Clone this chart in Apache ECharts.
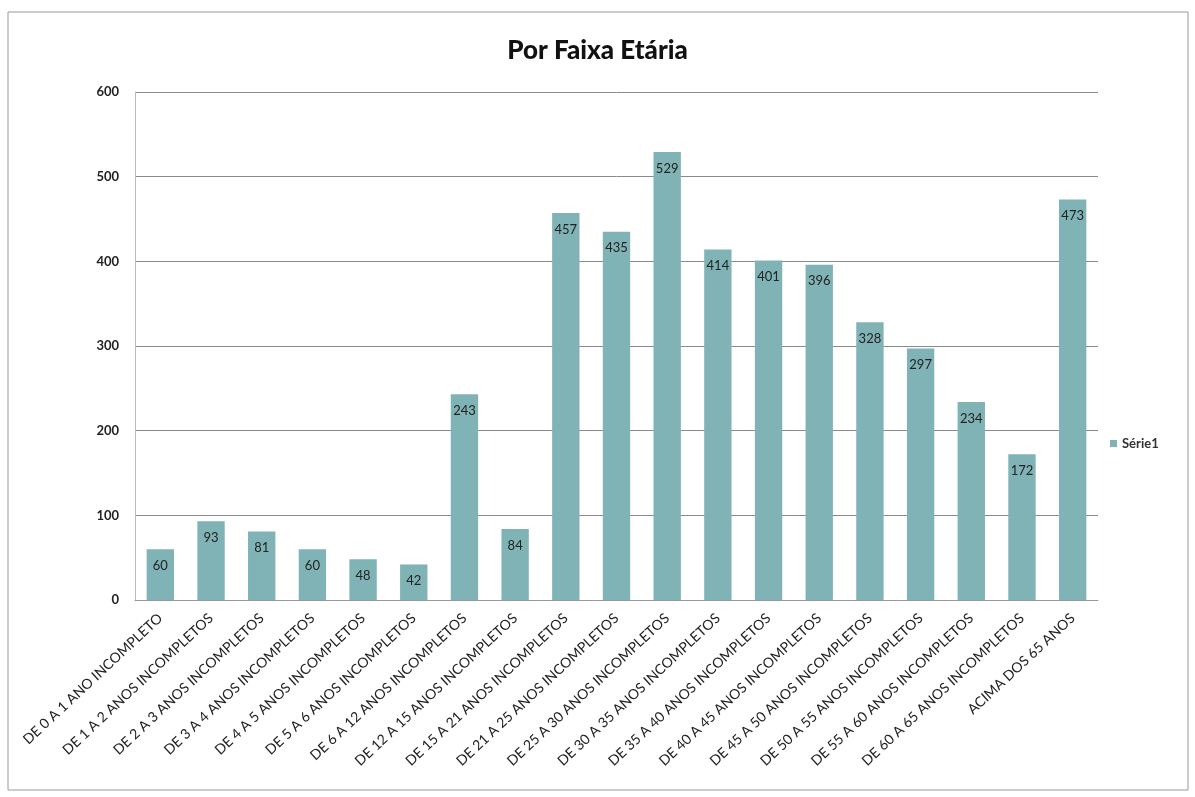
<!DOCTYPE html>
<html><head><meta charset="utf-8">
<script src="https://cdn.jsdelivr.net/npm/echarts@6/dist/echarts.min.js"></script>
<style>html,body{margin:0;padding:0;background:#fff}#c{width:1195px;height:797px}</style>
</head><body><div id="c"></div>
<script>
const categories = [
  "DE 0 A 1 ANO INCOMPLETO",
  "DE 1 A 2 ANOS INCOMPLETOS",
  "DE 2 A 3 ANOS INCOMPLETOS",
  "DE 3 A 4 ANOS INCOMPLETOS",
  "DE 4 A 5 ANOS INCOMPLETOS",
  "DE 5 A 6 ANOS INCOMPLETOS",
  "DE 6 A 12 ANOS INCOMPLETOS",
  "DE 12 A 15 ANOS INCOMPLETOS",
  "DE 15 A 21 ANOS INCOMPLETOS",
  "DE 21 A 25 ANOS INCOMPLETOS",
  "DE 25 A 30 ANOS INCOMPLETOS",
  "DE 30 A 35 ANOS INCOMPLETOS",
  "DE 35 A 40 ANOS INCOMPLETOS",
  "DE 40 A 45 ANOS INCOMPLETOS",
  "DE 45 A 50 ANOS INCOMPLETOS",
  "DE 50 A 55 ANOS INCOMPLETOS",
  "DE 55 A 60 ANOS INCOMPLETOS",
  "DE 60 A 65 ANOS INCOMPLETOS",
  "ACIMA DOS 65 ANOS"
];
const serie1 = [60, 93, 81, 60, 48, 42, 243, 84, 457, 435, 529, 414, 401, 396, 328, 297, 234, 172, 473];
const seriesName = "Série1";
const titleText = "Por Faixa Etária";

const chart = echarts.init(document.getElementById('c'));
chart.setOption({
  backgroundColor: '#fff',
  animation: false,
  title: {
    text: titleText, left: 'center', top: 33,
    textStyle: { fontFamily: 'Lato', fontWeight: 900, fontSize: 26, color: '#111' }
  },
  legend: {
    orient: 'vertical', left: 1105, top: 432,
    icon: 'rect', itemWidth: 7, itemHeight: 7, itemGap: 6,
    textStyle: { fontFamily: 'Lato', fontWeight: 'bold', fontSize: 13, color: '#333' },
    data: [seriesName]
  },
  grid: { left: 135, right: 97, top: 92, bottom: 197 },
  xAxis: {
    type: 'category', data: categories,
    axisLine: { lineStyle: { color: '#999', width: 1 } },
    axisTick: { show: false },
    axisLabel: {
      interval: 0, rotate: 43, margin: 16,
      fontFamily: 'Lato', fontSize: 14, color: '#222'
    }
  },
  yAxis: {
    type: 'value', min: 0, max: 600, interval: 100,
    axisLine: { show: true, lineStyle: { color: '#bbb' } },
    axisTick: { show: false },
    axisLabel: { margin: 16, fontFamily: 'Lato', fontWeight: 'bold', fontSize: 13, color: '#222' },
    splitLine: { lineStyle: { color: '#8a8a8a', width: 1 } }
  },
  graphic: [{
    type: 'rect', shape: { x: 8, y: 12, width: 1180, height: 778 },
    style: { fill: 'none', stroke: '#999', lineWidth: 1 }, silent: true
  }],
  series: [{
    name: seriesName, type: 'bar', data: serie1, barWidth: '54%',
    itemStyle: { color: '#80b3b6' },
    label: {
      show: true, position: 'insideTop', distance: 10,
      fontFamily: 'Lato', fontSize: 13, color: '#222'
    }
  }]
});
</script></body></html>
